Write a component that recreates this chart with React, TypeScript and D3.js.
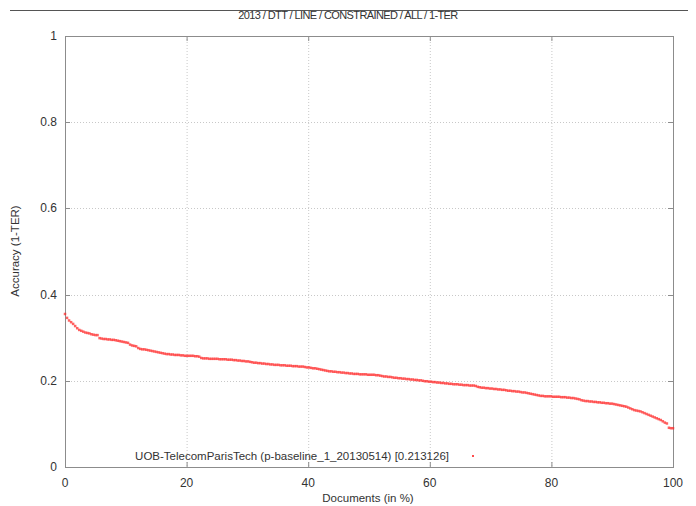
import React from "react";
import * as d3 from "d3";

const title = "2013 / DTT / LINE / CONSTRAINED / ALL / 1-TER";
const xLabel = "Documents (in %)";
const yLabel = "Accuracy (1-TER)";
const legendLabel = "UOB-TelecomParisTech (p-baseline_1_20130514) [0.213126]";
const xTicks = [0, 20, 40, 60, 80, 100];
const yTicks = [0, 0.2, 0.4, 0.6, 0.8, 1];
const yTickLabels = ["0", "0.2", "0.4", "0.6", "0.8", "1"];

// Accuracy per document, sorted descending
const accuracy = [
  0.355, 0.346, 0.340, 0.336, 0.332, 0.327, 0.322, 0.318, 0.316, 0.314, 0.312, 0.311, 0.310, 0.308, 0.307,
  0.306, 0.306, 0.299, 0.298, 0.297, 0.297, 0.296, 0.296, 0.295, 0.295, 0.294, 0.293, 0.292, 0.291, 0.290,
  0.289, 0.288, 0.284, 0.282, 0.281, 0.280, 0.276, 0.274, 0.273, 0.273, 0.272, 0.271, 0.270, 0.269, 0.268,
  0.267, 0.266, 0.265, 0.264, 0.263, 0.262, 0.262, 0.261, 0.261, 0.260, 0.260, 0.260, 0.259, 0.259, 0.258,
  0.258, 0.258, 0.258, 0.258, 0.257, 0.257, 0.256, 0.253, 0.252, 0.252, 0.252, 0.251, 0.251, 0.251, 0.251,
  0.251, 0.250, 0.250, 0.250, 0.250, 0.249, 0.249, 0.249, 0.248, 0.248, 0.247, 0.247, 0.246, 0.246, 0.245,
  0.245, 0.244, 0.243, 0.242, 0.242, 0.241, 0.241, 0.240, 0.240, 0.239, 0.239, 0.238, 0.238, 0.237, 0.237,
  0.237, 0.236, 0.236, 0.236, 0.235, 0.235, 0.235, 0.234, 0.234, 0.234, 0.233, 0.233, 0.233, 0.232, 0.231,
  0.231, 0.230, 0.229, 0.229, 0.228, 0.227, 0.226, 0.225, 0.224, 0.223, 0.222, 0.222, 0.221, 0.221, 0.220,
  0.220, 0.219, 0.219, 0.218, 0.218, 0.217, 0.217, 0.216, 0.216, 0.216, 0.215, 0.215, 0.215, 0.215, 0.214,
  0.214, 0.214, 0.214, 0.213, 0.213, 0.212, 0.211, 0.210, 0.210, 0.209, 0.209, 0.208, 0.207, 0.207, 0.206,
  0.206, 0.205, 0.205, 0.204, 0.204, 0.203, 0.203, 0.202, 0.202, 0.201, 0.201, 0.200, 0.199, 0.199, 0.198,
  0.198, 0.197, 0.197, 0.196, 0.196, 0.195, 0.195, 0.194, 0.194, 0.193, 0.193, 0.192, 0.192, 0.192, 0.191,
  0.191, 0.190, 0.190, 0.190, 0.189, 0.189, 0.189, 0.188, 0.186, 0.185, 0.184, 0.184, 0.183, 0.183, 0.182,
  0.182, 0.181, 0.181, 0.180, 0.180, 0.179, 0.179, 0.178, 0.177, 0.177, 0.176, 0.176, 0.175, 0.175, 0.174,
  0.173, 0.173, 0.172, 0.171, 0.170, 0.169, 0.168, 0.167, 0.166, 0.165, 0.165, 0.164, 0.164, 0.164, 0.164,
  0.163, 0.163, 0.163, 0.163, 0.162, 0.162, 0.162, 0.161, 0.161, 0.160, 0.160, 0.159, 0.158, 0.157, 0.155,
  0.154, 0.153, 0.153, 0.152, 0.152, 0.151, 0.151, 0.150, 0.150, 0.149, 0.149, 0.148, 0.148, 0.147, 0.147,
  0.146, 0.145, 0.144, 0.143, 0.142, 0.141, 0.140, 0.138, 0.136, 0.134, 0.132, 0.131, 0.130, 0.129, 0.127,
  0.125, 0.123, 0.121, 0.119, 0.117, 0.115, 0.113, 0.111, 0.109, 0.106, 0.103, 0.101, 0.091, 0.090, 0.090,
];

const W = 696;
const H = 506;
const M = { left: 65, right: 673, top: 36, bottom: 467 };
const FONT = "'Liberation Sans', Arial, sans-serif";

export default function App() {
  const x = d3.scaleLinear().domain([0, 100]).range([M.left, M.right]);
  const y = d3.scaleLinear().domain([0, 1]).range([M.bottom, M.top]);
  const n = accuracy.length;
  const pts = accuracy.map((v, i) => ({ px: (i / (n - 1)) * 100, v }));
  const frame = "#8c8c8c";
  const grid = "#c8c8c8";
  const tickLen = 5;

  return (
    <svg
      width={W}
      height={H}
      style={{ position: "absolute", left: 0, top: 0, background: "#fff" }}
      fontFamily={FONT}
    >
      <line x1={10} x2={688} y1={10.5} y2={10.5} stroke="#555" strokeWidth={1} />
      <text x={348} y={19} textAnchor="middle" fontSize={11} letterSpacing={-0.6} fill="#333">
        {title}
      </text>

      {/* grid */}
      {xTicks.slice(1, -1).map((t) => (
        <line key={"gx" + t} x1={x(t) + 0.5} x2={x(t) + 0.5} y1={M.top} y2={M.bottom}
          stroke={grid} strokeDasharray="1,2" />
      ))}
      {yTicks.slice(1, -1).map((t) => (
        <line key={"gy" + t} x1={M.left} x2={M.right} y1={Math.round(y(t)) + 0.5} y2={Math.round(y(t)) + 0.5}
          stroke={grid} strokeDasharray="1,2" />
      ))}

      {/* ticks */}
      {xTicks.map((t) => (
        <g key={"tx" + t}>
          <line x1={x(t) + 0.5} x2={x(t) + 0.5} y1={M.bottom} y2={M.bottom - tickLen} stroke={frame} />
          <line x1={x(t) + 0.5} x2={x(t) + 0.5} y1={M.top} y2={M.top + tickLen} stroke={frame} />
          <text x={x(t)} y={487} textAnchor="middle" fontSize={12} fill="#333">
            {t}
          </text>
        </g>
      ))}
      {yTicks.map((t, i) => (
        <g key={"ty" + t}>
          <line x1={M.left} x2={M.left + tickLen} y1={Math.round(y(t)) + 0.5} y2={Math.round(y(t)) + 0.5} stroke={frame} />
          <line x1={M.right} x2={M.right - tickLen} y1={Math.round(y(t)) + 0.5} y2={Math.round(y(t)) + 0.5} stroke={frame} />
          <text x={57} y={y(t) + 4} textAnchor="end" fontSize={12} fill="#333">
            {yTickLabels[i]}
          </text>
        </g>
      ))}

      {/* frame */}
      <rect x={M.left + 0.5} y={M.top + 0.5} width={M.right - M.left} height={M.bottom - M.top}
        fill="none" stroke={frame} strokeWidth={1} />

      {/* points */}
      {pts.map((p, i) => (
        <rect key={i} x={x(p.px) - 1.25} y={y(p.v) - 1.25} width={2.5} height={2.5}
          fill="#ff2020" opacity={0.7} />
      ))}

      {/* legend */}
      <text x={449} y={460} textAnchor="end" fontSize={11.5} fill="#333">
        {legendLabel}
      </text>
      <rect x={472} y={455} width={2} height={2} fill="#ff2020" opacity={0.8} />

      <text x={368} y={502} textAnchor="middle" fontSize={11.5} fill="#333">
        {xLabel}
      </text>
      <text transform={`translate(19,251) rotate(-90)`} textAnchor="middle" fontSize={11.5} fill="#333">
        {yLabel}
      </text>
    </svg>
  );
}
